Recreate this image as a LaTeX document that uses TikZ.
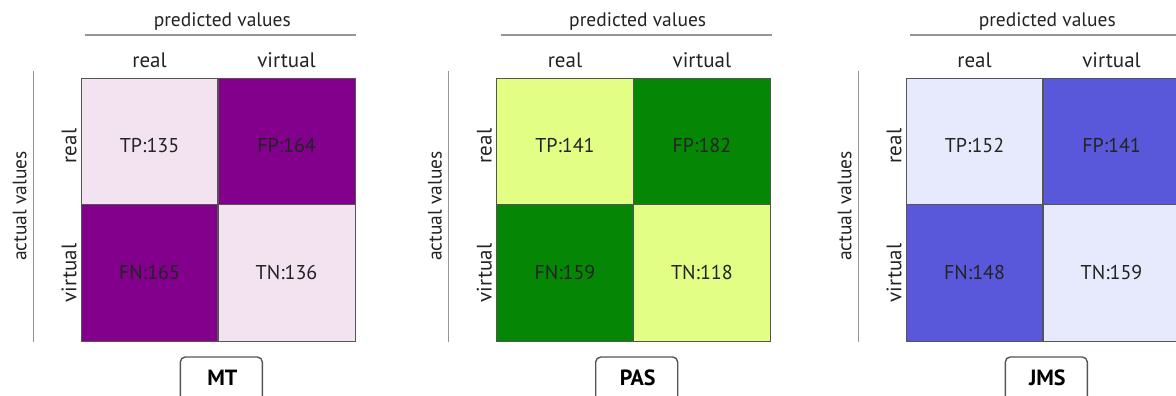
\documentclass[tikz,border=0pt]{standalone}
\usepackage{fontspec}
\setmainfont{PT Sans}
\definecolor{mtlight}{RGB}{243,227,241}
\definecolor{mtdark}{RGB}{130,0,140}
\definecolor{paslight}{RGB}{226,254,132}
\definecolor{pasdark}{RGB}{5,135,5}
\definecolor{jmslight}{RGB}{230,234,252}
\definecolor{jmsdark}{RGB}{90,88,218}
\definecolor{rulegray}{RGB}{150,150,150}
\definecolor{txt}{RGB}{35,35,35}
\definecolor{cellborder}{RGB}{85,85,85}
\tikzset{
  cellbox/.style={draw=cellborder, line width=0.9pt, inner sep=0pt, minimum height=#1},
  cellbox/.default=126pt,
  celltext/.style={anchor=base, inner sep=0pt, text=txt, font=\fontsize{20}{22}\selectfont},
  axislabel/.style={anchor=base, inner sep=0pt, text=txt, font=\fontsize{21}{23}\selectfont},
  headlabel/.style={anchor=base, inner sep=0pt, text=txt, font=\fontsize{19.5}{22}\selectfont},
  rulebar/.style={draw=rulegray, line width=1.3pt},
  titlebox/.style={draw=cellborder, line width=1.4pt, rounded corners=5pt, minimum width=82pt, minimum height=48pt, inner sep=0pt},
  titletext/.style={anchor=base, inner sep=0pt, text=black, font=\fontsize{22}{24}\selectfont\bfseries}
}
% #1 left x, #2 name, #3 light, #4 dark, #5 TP, #6 FP, #7 FN, #8 TN, #9 title
\newcommand{\cmpanel}[9]{%
\begin{scope}[xshift=#1pt]
  \node[cellbox=126pt, fill=#3, minimum width=136.5pt] (#2tp) at (68.25,141) {};
  \node[cellbox=126pt, fill=#4, minimum width=137pt] (#2fp) at (205.25,141) {};
  \node[cellbox=137pt, fill=#4, minimum width=136.5pt] (#2fn) at (68.25,272.5) {};
  \node[cellbox=137pt, fill=#3, minimum width=137pt] (#2tn) at (205.25,272.5) {};
  \node[celltext] (#2tpt) at (68.25,152.7) {TP:#5};
  \node[celltext] (#2fpt) at (205.25,152.7) {FP:#6};
  \node[celltext] (#2fnt) at (68.25,279.3) {FN:#7};
  \node[celltext] (#2tnt) at (205.25,279.3) {TN:#8};
  \node[axislabel] (#2colr) at (68.25,68) {real};
  \node[axislabel] (#2colv) at (205.25,68) {virtual};
  \node[axislabel, rotate=90] (#2rowr) at (-5,146) {real};
  \node[axislabel, rotate=90] (#2rowv) at (-5,273) {virtual};
  \node[headlabel] (#2pred) at (141,27) {predicted values};
  \node[headlabel, rotate=90] (#2act) at (-55,206) {actual values};
  \coordinate (#2pa) at (4,35);
  \coordinate (#2pb) at (275,35);
  \coordinate (#2aa) at (-48,71);
  \coordinate (#2ab) at (-48,342);
  \draw[rulebar] (#2pa) -- (#2pb);
  \draw[rulebar] (#2aa) -- (#2ab);
  \node[titlebox] (#2box) at (140,381) {};
  \node[titletext] (#2title) at (141,385) {#9};
\end{scope}}
\begin{document}
\begin{tikzpicture}[x=1pt,y=-1pt]
\useasboundingbox (0,0) rectangle (1176,396);
\fill[white] (0,0) rectangle (1176,396);
\cmpanel{81.3}{mt}{mtlight}{mtdark}{135}{164}{165}{136}{MT}
\cmpanel{496.7}{pas}{paslight}{pasdark}{141}{182}{159}{118}{PAS}
\cmpanel{906.3}{jms}{jmslight}{jmsdark}{152}{141}{148}{159}{JMS}
\end{tikzpicture}
\end{document}
